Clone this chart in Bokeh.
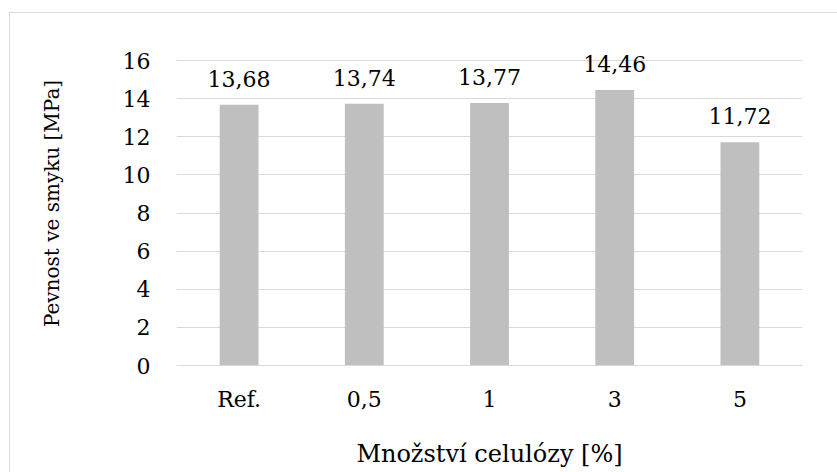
from bokeh.plotting import figure
from bokeh.models import ColumnDataSource, LabelSet, FixedTicker
from bokeh.core.properties import value
from bokeh.embed import file_html
from bokeh.resources import INLINE

categories = ["Ref.", "0,5", "1", "3", "5"]
values = [13.68, 13.74, 13.77, 14.46, 11.72]
labels = [f"{v:.2f}".replace(".", ",") for v in values]
y_ticks = [0, 2, 4, 6, 8, 10, 12, 14, 16]

FONT = "DejaVu Serif"
src = ColumnDataSource(dict(cat=categories, val=values, lab=labels))

bg = ("linear-gradient(#d9d9d9, #d9d9d9), linear-gradient(#d9d9d9, #d9d9d9)")
p = figure(x_range=categories, y_range=(0, 17), width=837, height=472,
           output_backend="svg", toolbar_location=None,
           min_border_left=176, min_border_right=35, min_border_top=41,
           min_border_bottom=107,
           border_fill_color=None, background_fill_color=None,
           styles={"background-image": bg,
                   "background-size": "100% 1px, 1px 100%",
                   "background-position": "9px 12px, 9px 12px",
                   "background-repeat": "no-repeat"})

p.vbar(x="cat", top="val", width=0.31, source=src, fill_color="#bfbfbf",
       line_color=None)

p.add_layout(LabelSet(x="cat", y="val", text="lab", source=src,
                      text_align="center", text_baseline="alphabetic",
                      y_offset=18, text_font=value(FONT),
                      text_font_size=value("22px"),
                      text_color="#000000"))

p.outline_line_color = None
p.xgrid.grid_line_color = None
p.ygrid.grid_line_color = "#d9d9d9"
p.ygrid.grid_line_width = 1
p.yaxis.ticker = FixedTicker(ticks=y_ticks)

for ax in (p.xaxis[0], p.yaxis[0]):
    ax.major_tick_line_color = None
    ax.minor_tick_line_color = None
    ax.major_tick_out = 0
    ax.major_tick_in = 0
    ax.major_label_text_font = FONT
    ax.major_label_text_font_size = "22px"
    ax.major_label_text_color = "#000000"
    ax.axis_label_text_font = FONT
    ax.axis_label_text_font_style = "normal"
    ax.axis_label_text_color = "#000000"

p.xaxis.axis_label_text_font_size = "24px"
p.yaxis.axis_label_text_font_size = "20px"
p.xaxis.axis_line_color = "#d9d9d9"
p.yaxis.axis_line_color = None
p.xaxis.major_label_standoff = 21
p.yaxis.major_label_standoff = 26
p.xaxis.axis_label = "Množství celulózy [%]"
p.yaxis.axis_label = "Pevnost ve smyku [MPa]"
p.xaxis.axis_label_standoff = 25
p.yaxis.axis_label_standoff = 56

open("out.html", "w").write(file_html(p, INLINE))
